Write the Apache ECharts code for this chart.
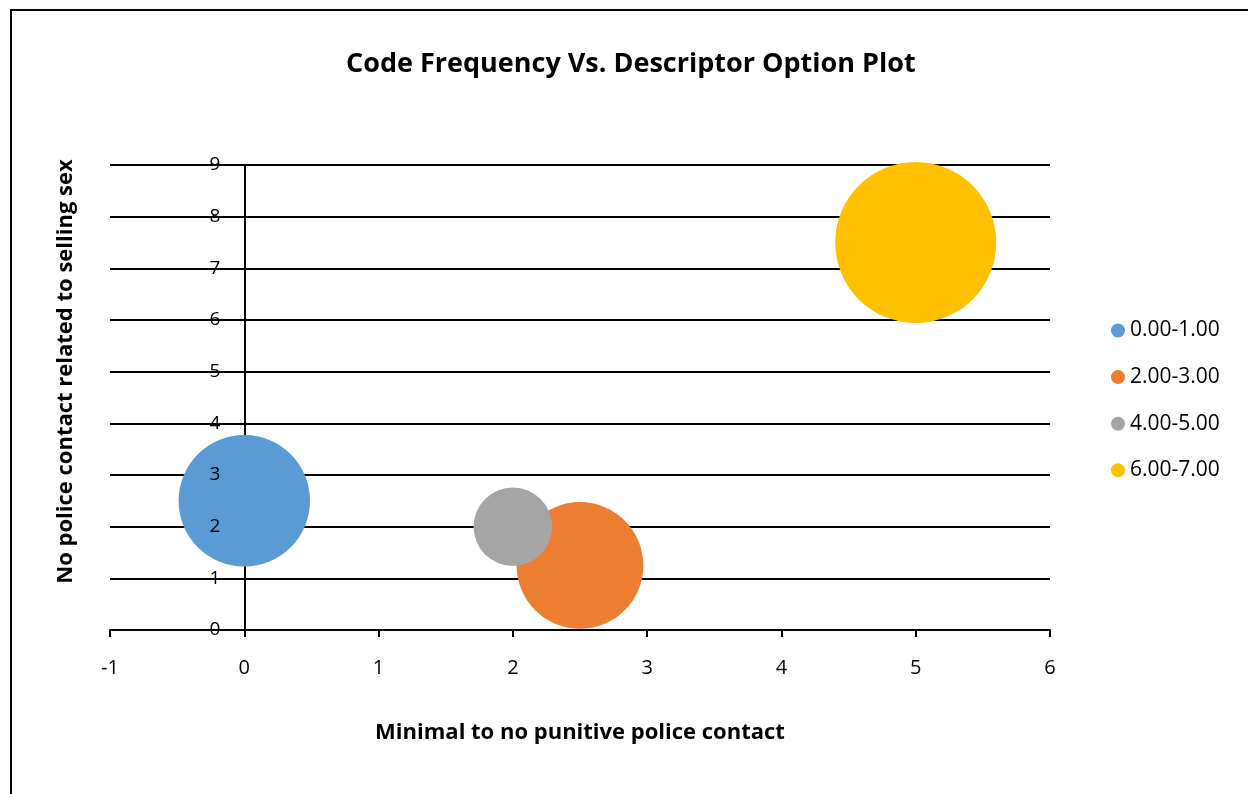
<!DOCTYPE html>
<html>
<head>
<meta charset="utf-8">
<script src="https://cdn.jsdelivr.net/npm/echarts@6/dist/echarts.min.js"></script>
<style>
html,body{margin:0;padding:0;background:#fff;}
#c{width:1248px;height:794px;}
</style>
</head>
<body>
<div id="c"></div>
<script>
const seriesNames = ['0.00-1.00', '2.00-3.00', '4.00-5.00', '6.00-7.00'];
const xValues = [0, 2.5, 2, 5];
const yValues = [2.5, 1.25, 2, 7.5];
const bubbleSizes = [28, 26, 10, 42];
const colors = ['#5B9BD5', '#ED7D31', '#A5A5A5', '#FFC000'];
const titleText = 'Code Frequency Vs. Descriptor Option Plot';
const xAxisName = 'Minimal to no punitive police contact';
const yAxisName = 'No police contact related to selling sex';

const FONT = 'Open Sans';
const maxSize = Math.max(...bubbleSizes);
const MAX_D = 161;
const GRID_LEFT = 110, GRID_RIGHT = 198;
const X_MIN = -1, X_MAX = 6;
// pixel distance from the grid's left edge to x = 0, so the label axis sits on the zero line
const zeroOffset = (1248 - GRID_LEFT - GRID_RIGHT) * (0 - X_MIN) / (X_MAX - X_MIN);

const chart = echarts.init(document.getElementById('c'), null, {renderer: 'canvas'});
const option = {
  backgroundColor: '#fff',
  animation: false,
  textStyle: {fontFamily: FONT},
  title: {
    text: titleText,
    left: 341,
    top: 46,
    textStyle: {fontFamily: FONT, fontWeight: 'bold', fontSize: 27, color: '#000'}
  },
  graphic: [{
    type: 'rect',
    shape: {x: 11, y: 10, width: 1400, height: 1000},
    style: {fill: null, stroke: '#000', lineWidth: 2},
    silent: true, z: 100
  }],
  legend: {
    orient: 'vertical',
    left: 1106,
    top: 315,
    icon: 'circle',
    itemWidth: 14,
    itemHeight: 14,
    itemGap: 25.6,
    textStyle: {fontFamily: FONT, fontSize: 21, color: '#000'},
    data: seriesNames
  },
  grid: {left: GRID_LEFT, right: GRID_RIGHT, top: 165, bottom: 164, containLabel: false, outerBoundsMode: 'none'},
  xAxis: {
    type: 'value',
    min: X_MIN, max: X_MAX, interval: 1,
    name: xAxisName,
    nameLocation: 'middle',
    nameGap: 92,
    nameTextStyle: {fontFamily: FONT, fontWeight: 'bold', fontSize: 22, color: '#000'},
    axisLine: {onZero: false, lineStyle: {color: '#000', width: 2}},
    axisTick: {show: true, length: 7, lineStyle: {color: '#000', width: 2}},
    axisLabel: {fontFamily: FONT, fontSize: 20, color: '#000', margin: 28},
    splitLine: {show: false}
  },
  yAxis: [{
    type: 'value',
    min: 0, max: 9, interval: 1,
    z: 0,
    axisLine: {show: true, onZero: true, lineStyle: {color: '#000', width: 2}},
    axisTick: {show: false},
    axisLabel: {show: false},
    splitLine: {show: true, lineStyle: {color: '#000', width: 2}}
  }, {
    type: 'value',
    min: 0, max: 9, interval: 1,
    position: 'left',
    offset: -zeroOffset,
    z: 10,
    name: yAxisName,
    nameLocation: 'middle',
    nameRotate: 90,
    nameGap: 168,
    nameTextStyle: {fontFamily: FONT, fontWeight: 'bold', fontSize: 22, color: '#000', padding: [0, 0, 0, 52]},
    axisLine: {show: false, onZero: false},
    axisTick: {show: false},
    axisLabel: {fontFamily: FONT, fontSize: 19, color: '#000', margin: 24},
    splitLine: {show: false}
  }],
  series: seriesNames.map((name, i) => ({
    name: name,
    type: 'scatter',
    yAxisIndex: 0,
    z: 2,
    itemStyle: {color: colors[i], opacity: 1},
    symbolSize: d => MAX_D * Math.sqrt(d[2] / maxSize),
    data: [[xValues[i], yValues[i], bubbleSizes[i]]]
  }))
};
chart.setOption(option);
</script>
</body>
</html>
